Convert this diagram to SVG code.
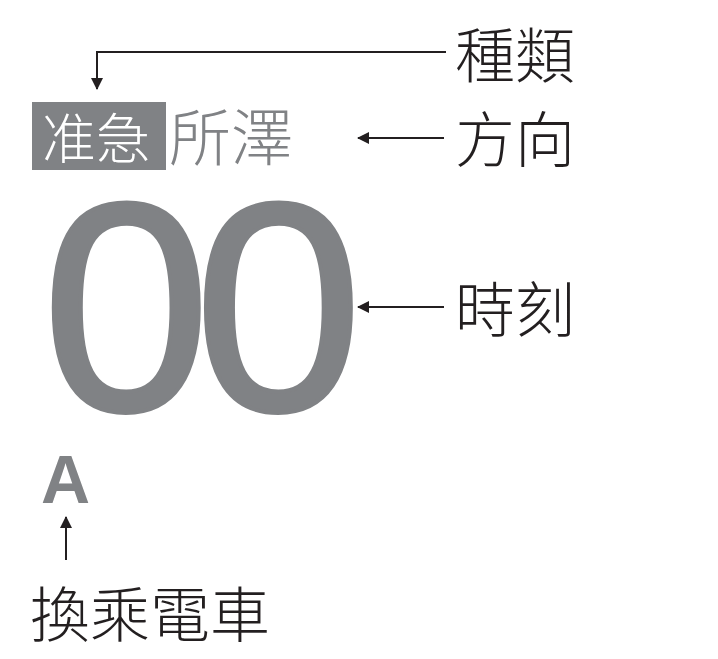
<svg xmlns="http://www.w3.org/2000/svg" width="718" height="659" viewBox="0 0 718 659">
<defs>
<style>
.lbl{font-family:"Noto Sans CJK TC","Noto Sans CJK JP",sans-serif;font-weight:300;font-size:60px;fill:#231f20}
.conn{stroke:#231f20;stroke-width:2;fill:none}
.gray{fill:#808285}
</style>
<marker id="ah" viewBox="0 0 12 12" refX="11" refY="6" markerWidth="12" markerHeight="12" markerUnits="userSpaceOnUse" orient="auto">
<path d="M0,0 L12,6 L0,12 Z" fill="#231f20"/>
</marker>
</defs>
<rect width="718" height="659" fill="#fff"/>
<g id="display">
<g id="type-box">
<rect x="32" y="102" width="134" height="68" class="gray"/>
<text x="42" y="159" font-family="Noto Sans CJK TC,sans-serif" font-weight="300" font-size="54" fill="#fff">准急</text>
</g>
<g id="destination">
<text x="169" y="161" font-family="Noto Sans CJK TC,sans-serif" font-weight="300" font-size="62" class="gray">所澤</text>
</g>
<g id="time">
<text x="42" y="410" font-family="Liberation Sans,Arial,sans-serif" font-size="297" letter-spacing="-16" class="gray" stroke="#808285" stroke-width="4" transform="translate(42 0) scale(1.02 1) translate(-42 0)">00</text>
</g>
<g id="transfer-mark">
<text x="41" y="503" font-family="Liberation Sans,Arial,sans-serif" font-weight="bold" font-size="68" class="gray">A</text>
</g>
</g>
<g id="label-type"><text class="lbl" x="455" y="78">種類</text></g>
<g id="label-direction"><text class="lbl" x="455" y="162">方向</text></g>
<g id="label-time"><text class="lbl" x="455" y="332">時刻</text></g>
<g id="label-transfer"><text class="lbl" x="30" y="637">換乘電車</text></g>
<g id="connectors">
<path class="conn" d="M446,52 H97 V89" marker-end="url(#ah)"/>
<path class="conn" d="M444,138 H358" marker-end="url(#ah)"/>
<path class="conn" d="M444,307 H358" marker-end="url(#ah)"/>
<path class="conn" d="M66,560 V517" marker-end="url(#ah)"/>
</g>
</svg>
